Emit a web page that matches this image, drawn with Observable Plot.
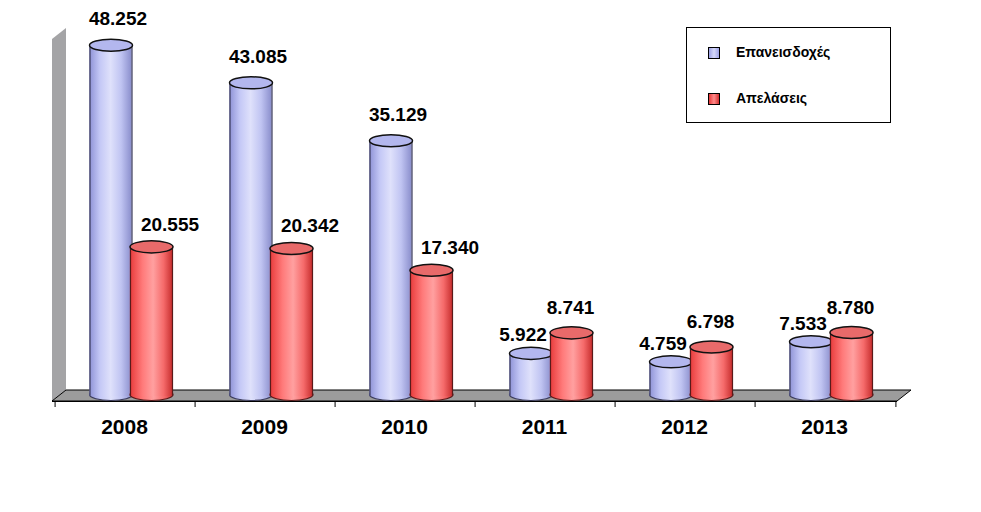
<!DOCTYPE html>
<html>
<head>
<meta charset="utf-8">
<script src="https://cdn.jsdelivr.net/npm/d3@7"></script>
<script src="https://cdn.jsdelivr.net/npm/@observablehq/plot@0.6"></script>
<style>
  html, body { margin: 0; padding: 0; background: #fff; }
  #wrap { position: relative; width: 981px; height: 512px; font-family: "Liberation Sans", Arial, sans-serif; }
  #legend { position: absolute; left: 686px; top: 27px; width: 203px; height: 94px; border: 1px solid #000; background: #fff; }
  .li { position: absolute; left: 0; font-size: 14px; font-weight: bold; color: #000; }
  .sw { position: absolute; left: 21px; width: 10px; height: 10px; border: 1.5px solid #000; }
  .lt { position: absolute; left: 49px; white-space: nowrap; }
</style>
</head>
<body>
<svg width="0" height="0" style="position:absolute">
  <defs>
    <linearGradient id="gBlue" x1="0" x2="1" y1="0" y2="0">
      <stop offset="0" stop-color="#8e92d6"/>
      <stop offset="0.25" stop-color="#c4c8f6"/>
      <stop offset="0.5" stop-color="#dfe1fb"/>
      <stop offset="0.75" stop-color="#c0c4f2"/>
      <stop offset="1" stop-color="#8a8ecc"/>
    </linearGradient>
    <linearGradient id="gRed" x1="0" x2="1" y1="0" y2="0">
      <stop offset="0" stop-color="#e83a3a"/>
      <stop offset="0.3" stop-color="#ff7a7a"/>
      <stop offset="0.55" stop-color="#ffa0a0"/>
      <stop offset="0.8" stop-color="#f56a6a"/>
      <stop offset="1" stop-color="#c83030"/>
    </linearGradient>
  </defs>
</svg>
<div id="wrap">
  <div id="chart"></div>
  <div id="legend"></div>
</div>
<script>
// ---- data ----
const years = ["2008", "2009", "2010", "2011", "2012", "2013"];
const readmissions = [48.252, 43.085, 35.129, 5.922, 4.759, 7.533];   // Επανεισδοχές
const deportations = [20.555, 20.342, 17.340, 8.741, 6.798, 8.780];    // Απελάσεις
const seriesNames = ["Επανεισδοχές", "Απελάσεις"];

// ---- layout ----
const W = 981, H = 512;
const mL = 52, mR = 84, mT = 32, mB = 116;
const bw = (W - mL - mR) / years.length;
const rx = 21.5;
const offBlue = -14.5, offRed = 26;

const rows = years.map((y, i) => ({year: y, a: readmissions[i], b: deportations[i]}));
const fmt = v => v.toFixed(3);

const ellipse = {
  draw(ctx, size) {
    const r = Math.sqrt(size / Math.PI), ry = r * 0.28, k = 0.5523;
    ctx.moveTo(r, 0);
    ctx.bezierCurveTo(r, ry * k, r * k, ry, 0, ry);
    ctx.bezierCurveTo(-r * k, ry, -r, ry * k, -r, 0);
    ctx.bezierCurveTo(-r, -ry * k, -r * k, -ry, 0, -ry);
    ctx.bezierCurveTo(r * k, -ry, r, -ry * k, r, 0);
    ctx.closePath();
  }
};

function cylinder(key, off, body, top, edge) {
  const inL = bw / 2 + off - rx;
  const inR = bw - inL - 2 * rx;
  return [
    Plot.dot(rows, {x: "year", y: () => 0, r: rx, dx: off, dy: -2, symbol: ellipse, fill: body, stroke: edge, strokeWidth: 1.2}),
    Plot.barY(rows, {x: "year", y: key, insetLeft: inL, insetRight: inR, fill: body}),
    Plot.ruleX(rows, {x: "year", y1: () => 0, y2: key, dx: off - rx + 0.5, stroke: edge, strokeWidth: 1.2}),
    Plot.ruleX(rows, {x: "year", y1: () => 0, y2: key, dx: off + rx - 0.5, stroke: edge, strokeWidth: 1.2}),
    Plot.dot(rows, {x: "year", y: key, r: rx, dx: off, symbol: ellipse, fill: top, stroke: "#111", strokeWidth: 1.5})
  ];
}

// labels: position differs depending on whether the blue cylinder is the taller one
function labels(key, off, tall, short) {
  const common = {x: "year", y: key, text: d => fmt(d[key]), lineAnchor: "bottom", textAnchor: "middle", fontSize: 19, fontWeight: "bold", fill: "#000"};
  return [
    Plot.text(rows, {...common, filter: d => d.a > d.b, dx: off + tall[0], dy: tall[1]}),
    Plot.text(rows, {...common, filter: d => d.a <= d.b, dx: off + short[0], dy: short[1]})
  ];
}

// 3D floor and back wall, derived from the frame dimensions and y scale
const room = Plot.frame({
  render(index, scales, values, dims) {
    const y0 = scales.y(0), yTop = scales.y(50);
    const l = dims.marginLeft, r = dims.width - dims.marginRight;
    const ddx = 14, ddy = 11;
    const g = d3.create("svg:g");
    g.append("polygon")
      .attr("points", [[l, y0 + 5], [l, yTop + 7], [l + ddx, yTop + 7 - ddy], [l + ddx, y0 + 5 - ddy]].join(" "))
      .attr("fill", "#a4a4a6");
    g.append("polygon")
      .attr("points", [[l, y0 + 5], [l + ddx, y0 + 5 - ddy], [r + ddx, y0 + 5 - ddy], [r, y0 + 5]].join(" "))
      .attr("fill", "#9c9c9c").attr("stroke", "#000").attr("stroke-width", 1);
    return g.node();
  }
});

const chart = Plot.plot({
  width: W, height: H,
  marginLeft: mL, marginRight: mR, marginTop: mT, marginBottom: mB,
  style: {background: "#fff", fontFamily: "'Liberation Sans', Arial, sans-serif"},
  x: {domain: years, type: "band", padding: 0, axis: null},
  y: {domain: [0, 50], axis: null},
  marks: [
    room,
    ...cylinder("a", offBlue, "url(#gBlue)", "#b3b7ee", "#3a3a5a"),
    ...cylinder("b", offRed, "url(#gRed)", "#e86a6a", "#5a1a1a"),
    // value labels
    ...labels("a", offBlue, [7, -20], [-8, -12]),
    ...labels("b", offRed, [18.5, -16], [-1, -19]),
    // x axis line and ticks at band boundaries
    Plot.ruleY([0], {dy: 5, stroke: "#000", strokeWidth: 1}),
    Plot.ruleX(years, {x: d => d, dx: -bw / 2, insetTop: H - mT - mB + 5, insetBottom: -11, stroke: "#000"}),
    Plot.ruleX(years.slice(-1), {x: d => d, dx: bw / 2, insetTop: H - mT - mB + 5, insetBottom: -11, stroke: "#000"}),
    // x tick labels
    Plot.text(years, {x: d => d, text: d => d, frameAnchor: "bottom", lineAnchor: "bottom", dy: 37, dx: -1, fontSize: 21, fontWeight: "bold", fill: "#000"})
  ]
});
document.getElementById("chart").appendChild(chart);

// legend
const legend = document.getElementById("legend");
const swFill = ["linear-gradient(90deg,#9ea2e6,#d6d9fa,#9ea2e6)", "linear-gradient(90deg,#e83a3a,#ff8a8a,#d43030)"];
const tops = [19, 65];
seriesNames.forEach((name, i) => {
  const item = document.createElement("div");
  item.className = "li";
  item.style.top = tops[i] + "px";
  item.innerHTML = `<div class="sw" style="top:0px;background:${swFill[i]}"></div><div class="lt" style="top:-3px">${name}</div>`;
  legend.appendChild(item);
});
</script>
</body>
</html>
